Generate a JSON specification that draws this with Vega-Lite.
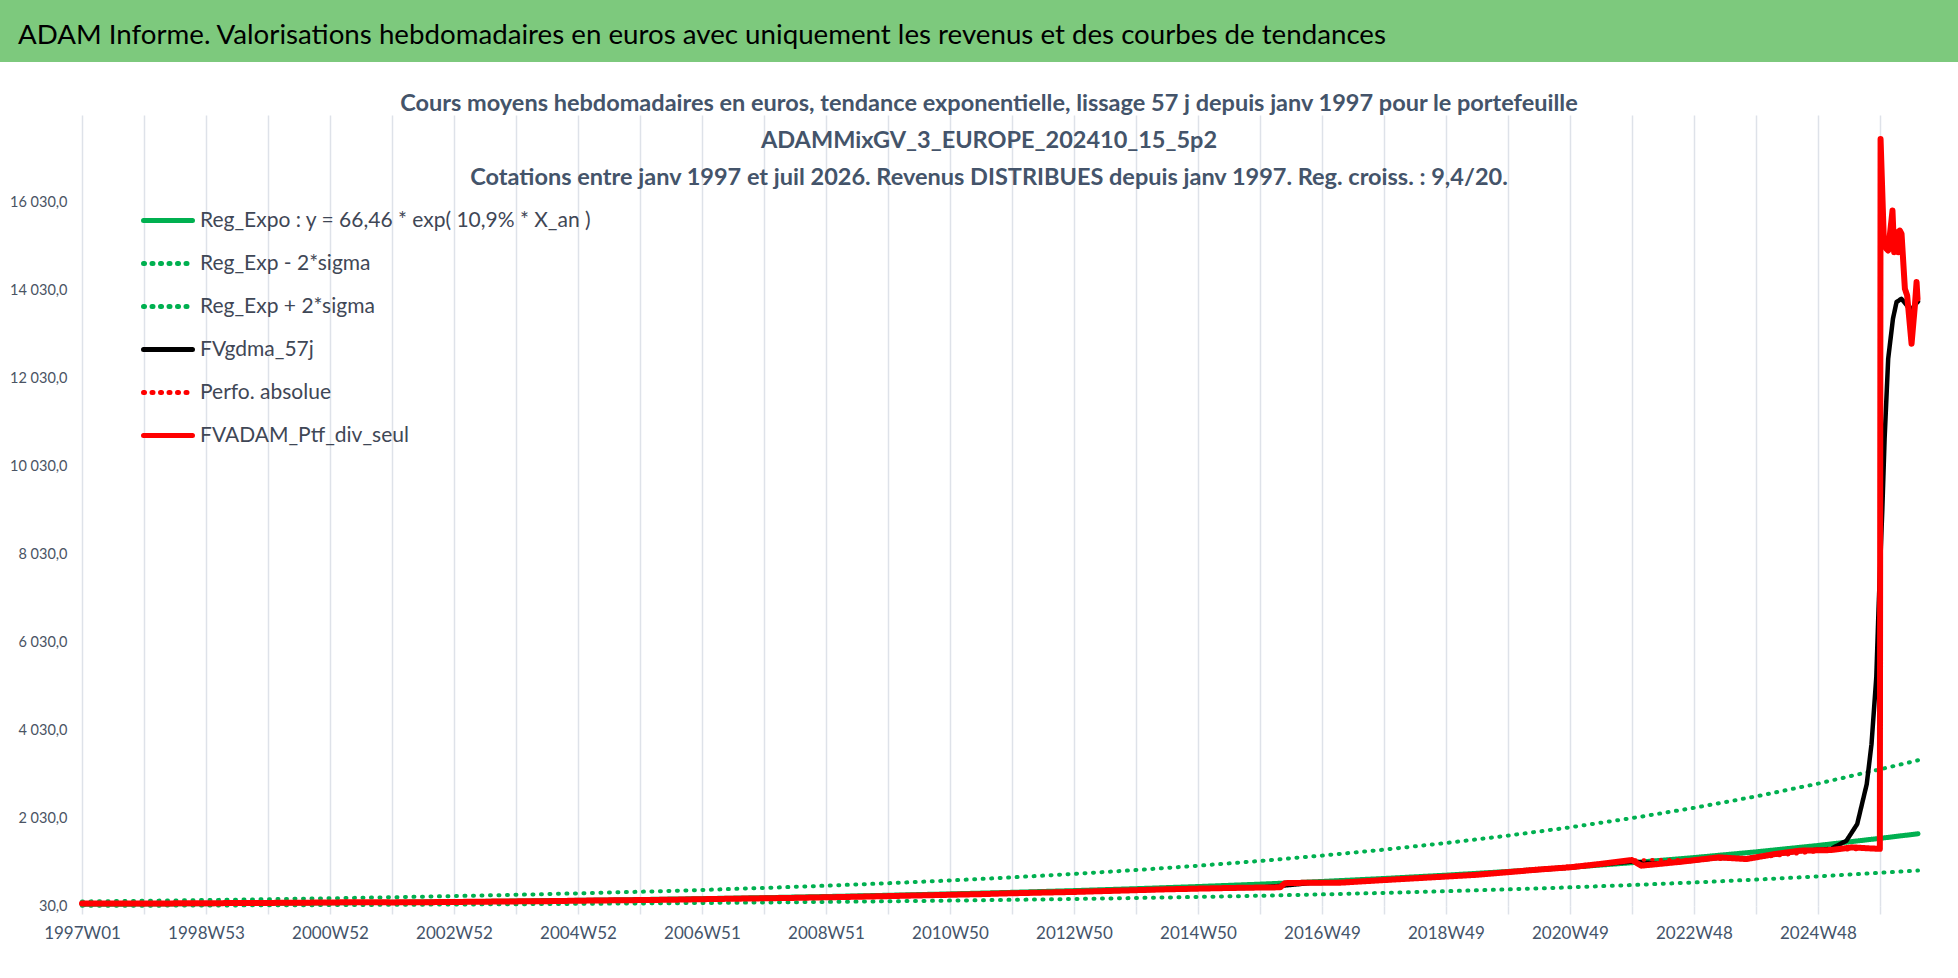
{
  "$schema": "https://vega.github.io/schema/vega-lite/v6.json",
  "background": "white",
  "padding": 0,
  "config": {
    "view": {"stroke": null},
    "font": "Lato"
  },
  "datasets": {
    "grid": [
      {"g": 30}, {"g": 2030}, {"g": 4030}, {"g": 6030}, {"g": 8030}, {"g": 10030}, {"g": 12030}, {"g": 14030}, {"g": 16030}
    ],
    "series": [
      {"s": "reg", "w": 0, "v": 66.5}, {"s": "reg", "w": 52, "v": 74.1}, {"s": "reg", "w": 104, "v": 82.7}, {"s": "reg", "w": 156, "v": 92.2},
      {"s": "reg", "w": 208, "v": 102.8}, {"s": "reg", "w": 260, "v": 114.6}, {"s": "reg", "w": 312, "v": 127.8}, {"s": "reg", "w": 364, "v": 142.6},
      {"s": "reg", "w": 416, "v": 159.0}, {"s": "reg", "w": 468, "v": 177.3}, {"s": "reg", "w": 520, "v": 197.7}, {"s": "reg", "w": 572, "v": 220.5},
      {"s": "reg", "w": 624, "v": 245.9}, {"s": "reg", "w": 676, "v": 274.2}, {"s": "reg", "w": 728, "v": 305.8}, {"s": "reg", "w": 780, "v": 341.0},
      {"s": "reg", "w": 832, "v": 380.3}, {"s": "reg", "w": 884, "v": 424.1}, {"s": "reg", "w": 936, "v": 473.0}, {"s": "reg", "w": 988, "v": 527.4},
      {"s": "reg", "w": 1040, "v": 588.2}, {"s": "reg", "w": 1092, "v": 656.0}, {"s": "reg", "w": 1144, "v": 731.5}, {"s": "reg", "w": 1196, "v": 815.8},
      {"s": "reg", "w": 1248, "v": 909.8}, {"s": "reg", "w": 1300, "v": 1014.6}, {"s": "reg", "w": 1352, "v": 1131.5}, {"s": "reg", "w": 1404, "v": 1261.8},
      {"s": "reg", "w": 1456, "v": 1407.2}, {"s": "reg", "w": 1508, "v": 1569.3}, {"s": "reg", "w": 1540, "v": 1673.0},

      {"s": "lo", "w": 0, "v": 33.3}, {"s": "lo", "w": 52, "v": 37.1}, {"s": "lo", "w": 104, "v": 41.4}, {"s": "lo", "w": 156, "v": 46.1},
      {"s": "lo", "w": 208, "v": 51.4}, {"s": "lo", "w": 260, "v": 57.3}, {"s": "lo", "w": 312, "v": 63.9}, {"s": "lo", "w": 364, "v": 71.3},
      {"s": "lo", "w": 416, "v": 79.5}, {"s": "lo", "w": 468, "v": 88.7}, {"s": "lo", "w": 520, "v": 98.9}, {"s": "lo", "w": 572, "v": 110.3},
      {"s": "lo", "w": 624, "v": 123.0}, {"s": "lo", "w": 676, "v": 137.1}, {"s": "lo", "w": 728, "v": 152.9}, {"s": "lo", "w": 780, "v": 170.5},
      {"s": "lo", "w": 832, "v": 190.2}, {"s": "lo", "w": 884, "v": 212.1}, {"s": "lo", "w": 936, "v": 236.5}, {"s": "lo", "w": 988, "v": 263.7},
      {"s": "lo", "w": 1040, "v": 294.1}, {"s": "lo", "w": 1092, "v": 328.0}, {"s": "lo", "w": 1144, "v": 365.8}, {"s": "lo", "w": 1196, "v": 407.9},
      {"s": "lo", "w": 1248, "v": 454.9}, {"s": "lo", "w": 1300, "v": 507.3}, {"s": "lo", "w": 1352, "v": 565.8}, {"s": "lo", "w": 1404, "v": 630.9},
      {"s": "lo", "w": 1456, "v": 703.6}, {"s": "lo", "w": 1508, "v": 784.7}, {"s": "lo", "w": 1540, "v": 836.5},

      {"s": "hi", "w": 0, "v": 133.0}, {"s": "hi", "w": 52, "v": 148.2}, {"s": "hi", "w": 104, "v": 165.4}, {"s": "hi", "w": 156, "v": 184.4},
      {"s": "hi", "w": 208, "v": 205.6}, {"s": "hi", "w": 260, "v": 229.2}, {"s": "hi", "w": 312, "v": 255.6}, {"s": "hi", "w": 364, "v": 285.2},
      {"s": "hi", "w": 416, "v": 318.0}, {"s": "hi", "w": 468, "v": 354.6}, {"s": "hi", "w": 520, "v": 395.4}, {"s": "hi", "w": 572, "v": 441.0},
      {"s": "hi", "w": 624, "v": 491.8}, {"s": "hi", "w": 676, "v": 548.4}, {"s": "hi", "w": 728, "v": 611.6}, {"s": "hi", "w": 780, "v": 682.0},
      {"s": "hi", "w": 832, "v": 760.6}, {"s": "hi", "w": 884, "v": 848.2}, {"s": "hi", "w": 936, "v": 946.0}, {"s": "hi", "w": 988, "v": 1054.8},
      {"s": "hi", "w": 1040, "v": 1176.4}, {"s": "hi", "w": 1092, "v": 1312.0}, {"s": "hi", "w": 1144, "v": 1463.0}, {"s": "hi", "w": 1196, "v": 1631.6},
      {"s": "hi", "w": 1248, "v": 1819.6}, {"s": "hi", "w": 1300, "v": 2029.2}, {"s": "hi", "w": 1352, "v": 2263.0}, {"s": "hi", "w": 1404, "v": 2523.6},
      {"s": "hi", "w": 1456, "v": 2814.4}, {"s": "hi", "w": 1508, "v": 3138.6}, {"s": "hi", "w": 1540, "v": 3346.0},

      {"s": "gdma", "w": 0, "v": 85}, {"s": "gdma", "w": 52, "v": 86}, {"s": "gdma", "w": 104, "v": 92}, {"s": "gdma", "w": 156, "v": 100},
      {"s": "gdma", "w": 208, "v": 110}, {"s": "gdma", "w": 260, "v": 114}, {"s": "gdma", "w": 312, "v": 122}, {"s": "gdma", "w": 364, "v": 135},
      {"s": "gdma", "w": 416, "v": 150}, {"s": "gdma", "w": 468, "v": 165}, {"s": "gdma", "w": 520, "v": 185}, {"s": "gdma", "w": 572, "v": 205},
      {"s": "gdma", "w": 624, "v": 228}, {"s": "gdma", "w": 676, "v": 255}, {"s": "gdma", "w": 728, "v": 285}, {"s": "gdma", "w": 780, "v": 318},
      {"s": "gdma", "w": 832, "v": 350}, {"s": "gdma", "w": 884, "v": 388}, {"s": "gdma", "w": 936, "v": 424}, {"s": "gdma", "w": 988, "v": 448},
      {"s": "gdma", "w": 1010, "v": 500}, {"s": "gdma", "w": 1030, "v": 552}, {"s": "gdma", "w": 1055, "v": 562}, {"s": "gdma", "w": 1092, "v": 618},
      {"s": "gdma", "w": 1144, "v": 698}, {"s": "gdma", "w": 1196, "v": 798}, {"s": "gdma", "w": 1248, "v": 905}, {"s": "gdma", "w": 1273, "v": 975},
      {"s": "gdma", "w": 1300, "v": 1040}, {"s": "gdma", "w": 1320, "v": 1000}, {"s": "gdma", "w": 1342, "v": 1035}, {"s": "gdma", "w": 1373, "v": 1125},
      {"s": "gdma", "w": 1396, "v": 1110}, {"s": "gdma", "w": 1420, "v": 1200}, {"s": "gdma", "w": 1441, "v": 1280}, {"s": "gdma", "w": 1467, "v": 1330},
      {"s": "gdma", "w": 1480, "v": 1516}, {"s": "gdma", "w": 1489, "v": 1894}, {"s": "gdma", "w": 1497, "v": 2803}, {"s": "gdma", "w": 1501, "v": 3712},
      {"s": "gdma", "w": 1505, "v": 5228}, {"s": "gdma", "w": 1507, "v": 6872}, {"s": "gdma", "w": 1510, "v": 9000}, {"s": "gdma", "w": 1512, "v": 10668},
      {"s": "gdma", "w": 1515, "v": 12485}, {"s": "gdma", "w": 1519, "v": 13394}, {"s": "gdma", "w": 1522, "v": 13773}, {"s": "gdma", "w": 1526, "v": 13848},
      {"s": "gdma", "w": 1528, "v": 13787}, {"s": "gdma", "w": 1534, "v": 13582}, {"s": "gdma", "w": 1537, "v": 13697}, {"s": "gdma", "w": 1540, "v": 13787},

      {"s": "perf", "w": 0, "v": 85}, {"s": "perf", "w": 104, "v": 92}, {"s": "perf", "w": 208, "v": 110}, {"s": "perf", "w": 312, "v": 122},
      {"s": "perf", "w": 416, "v": 150}, {"s": "perf", "w": 520, "v": 185}, {"s": "perf", "w": 624, "v": 228}, {"s": "perf", "w": 728, "v": 285},
      {"s": "perf", "w": 832, "v": 350}, {"s": "perf", "w": 936, "v": 425}, {"s": "perf", "w": 1005, "v": 455}, {"s": "perf", "w": 1009, "v": 550},
      {"s": "perf", "w": 1092, "v": 620}, {"s": "perf", "w": 1196, "v": 800}, {"s": "perf", "w": 1300, "v": 1076}, {"s": "perf", "w": 1396, "v": 1098},
      {"s": "perf", "w": 1467, "v": 1303}, {"s": "perf", "w": 1507, "v": 1326},

      {"s": "ptf", "w": 0, "v": 85}, {"s": "ptf", "w": 26, "v": 88}, {"s": "ptf", "w": 52, "v": 84}, {"s": "ptf", "w": 78, "v": 90},
      {"s": "ptf", "w": 104, "v": 92}, {"s": "ptf", "w": 130, "v": 98}, {"s": "ptf", "w": 156, "v": 100}, {"s": "ptf", "w": 182, "v": 105},
      {"s": "ptf", "w": 208, "v": 110}, {"s": "ptf", "w": 234, "v": 118}, {"s": "ptf", "w": 260, "v": 112}, {"s": "ptf", "w": 286, "v": 116},
      {"s": "ptf", "w": 312, "v": 122}, {"s": "ptf", "w": 338, "v": 128}, {"s": "ptf", "w": 364, "v": 135}, {"s": "ptf", "w": 390, "v": 140},
      {"s": "ptf", "w": 416, "v": 150}, {"s": "ptf", "w": 442, "v": 158}, {"s": "ptf", "w": 468, "v": 165}, {"s": "ptf", "w": 494, "v": 172},
      {"s": "ptf", "w": 520, "v": 185}, {"s": "ptf", "w": 546, "v": 195}, {"s": "ptf", "w": 572, "v": 205}, {"s": "ptf", "w": 598, "v": 215},
      {"s": "ptf", "w": 624, "v": 228}, {"s": "ptf", "w": 650, "v": 240}, {"s": "ptf", "w": 676, "v": 255}, {"s": "ptf", "w": 702, "v": 270},
      {"s": "ptf", "w": 728, "v": 285}, {"s": "ptf", "w": 754, "v": 300}, {"s": "ptf", "w": 780, "v": 320}, {"s": "ptf", "w": 806, "v": 335},
      {"s": "ptf", "w": 832, "v": 350}, {"s": "ptf", "w": 858, "v": 370}, {"s": "ptf", "w": 884, "v": 390}, {"s": "ptf", "w": 910, "v": 410},
      {"s": "ptf", "w": 936, "v": 425}, {"s": "ptf", "w": 962, "v": 440}, {"s": "ptf", "w": 988, "v": 450}, {"s": "ptf", "w": 1005, "v": 455},
      {"s": "ptf", "w": 1009, "v": 550}, {"s": "ptf", "w": 1030, "v": 560}, {"s": "ptf", "w": 1055, "v": 560}, {"s": "ptf", "w": 1092, "v": 620},
      {"s": "ptf", "w": 1118, "v": 660}, {"s": "ptf", "w": 1144, "v": 700}, {"s": "ptf", "w": 1170, "v": 740}, {"s": "ptf", "w": 1196, "v": 800},
      {"s": "ptf", "w": 1222, "v": 860}, {"s": "ptf", "w": 1248, "v": 910}, {"s": "ptf", "w": 1273, "v": 985}, {"s": "ptf", "w": 1300, "v": 1076},
      {"s": "ptf", "w": 1308, "v": 948}, {"s": "ptf", "w": 1342, "v": 1039}, {"s": "ptf", "w": 1373, "v": 1137}, {"s": "ptf", "w": 1396, "v": 1098},
      {"s": "ptf", "w": 1420, "v": 1212}, {"s": "ptf", "w": 1441, "v": 1289}, {"s": "ptf", "w": 1467, "v": 1303}, {"s": "ptf", "w": 1485, "v": 1364},
      {"s": "ptf", "w": 1500, "v": 1340}, {"s": "ptf", "w": 1508, "v": 1330}, {"s": "ptf", "w": 1508.6, "v": 17484}, {"s": "ptf", "w": 1511.3, "v": 15212},
      {"s": "ptf", "w": 1513.5, "v": 14985}, {"s": "ptf", "w": 1515, "v": 14946}, {"s": "ptf", "w": 1518.6, "v": 15855}, {"s": "ptf", "w": 1520, "v": 14909},
      {"s": "ptf", "w": 1522, "v": 15364}, {"s": "ptf", "w": 1523.4, "v": 14909}, {"s": "ptf", "w": 1524.8, "v": 15400}, {"s": "ptf", "w": 1526.2, "v": 15325},
      {"s": "ptf", "w": 1529, "v": 14076}, {"s": "ptf", "w": 1530.9, "v": 13924}, {"s": "ptf", "w": 1534.6, "v": 12826}, {"s": "ptf", "w": 1537.4, "v": 13697},
      {"s": "ptf", "w": 1538.8, "v": 14228}, {"s": "ptf", "w": 1539.6, "v": 13848}
    ]
  },
  "vconcat": [
    {
      "width": 1958,
      "height": 62,
      "view": {"fill": "#7DC97D", "stroke": null},
      "title": {
        "text": "ADAM Informe. Valorisations hebdomadaires en euros avec uniquement les revenus et des courbes de tendances",
        "anchor": "start",
        "frame": "group",
        "orient": "top",
        "offset": -50,
        "dx": 18,
        "fontSize": 27.7,
        "fontWeight": "normal",
        "color": "#000000"
      },
      "data": {"values": [{}]},
      "mark": {"type": "text", "text": ""},
      "encoding": {}
    },
    {
      "width": 1918,
      "height": 791,
      "title": {
        "text": [
          "Cours moyens hebdomadaires  en euros, tendance exponentielle, lissage 57 j depuis janv 1997 pour le portefeuille",
          "ADAMMixGV_3_EUROPE_202410_15_5p2",
          "Cotations entre janv 1997 et juil 2026. Revenus DISTRIBUES depuis janv 1997. Reg. croiss. : 9,4/20."
        ],
        "anchor": "middle",
        "frame": "group",
        "offset": -74,
        "dx": 30,
        "fontSize": 23.5,
        "fontWeight": "bold",
        "lineHeight": 37,
        "color": "#44546A"
      },
      "encoding": {
        "x": {
          "field": "w",
          "type": "quantitative",
          "scale": {"domain": [-68.78, 1540], "nice": false, "zero": false},
          "axis": {
            "title": null,
            "values": [0, 52, 104, 156, 208, 260, 312, 364, 416, 468, 520, 572, 624, 676, 728, 780, 832, 884, 936, 988, 1040, 1092, 1144, 1196, 1248, 1300, 1352, 1404, 1456, 1508],
            "labelExpr": "datum.value % 104 === 0 ? ['1997W01','1998W53','2000W52','2002W52','2004W52','2006W51','2008W51','2010W50','2012W50','2014W50','2016W49','2018W49','2020W49','2022W48','2024W48'][datum.value / 104] : ''",
            "labelFontSize": 17,
            "labelColor": "#44546A",
            "labelPadding": 11,
            "labelFlush": false,
            "labelOverlap": false,
            "labelBound": false,
            "tickSize": 8,
            "tickColor": "#DEE2E9",
            "tickWidth": 1.5,
            "domain": false,
            "grid": true,
            "gridColor": "#DEE2E9",
            "gridWidth": 1.5
          }
        },
        "y": {
          "field": "v",
          "type": "quantitative",
          "scale": {"domain": [30, 18030], "nice": false, "zero": false},
          "axis": {
            "title": null,
            "values": [30, 2030, 4030, 6030, 8030, 10030, 12030, 14030, 16030],
            "labelExpr": "replace(replace(format(datum.value, ',.1f'), ',', ' '), '.', ',')",
            "labelFontSize": 14.5,
            "labelColor": "#4A5464",
            "labelAlign": "right",
            "labelPadding": -67,
            "tickSize": 0,
            "labelFlush": false,
            "labelOverlap": false,
            "labelBound": false,
            "domain": false,
            "ticks": false,
            "grid": false
          }
        },
        "color": {
          "field": "s",
          "type": "nominal",
          "scale": {
            "domain": ["reg", "lo", "hi", "gdma", "perf", "ptf"],
            "range": ["#00B050", "#00B050", "#00B050", "#000000", "#FF0000", "#FF0000"]
          },
          "legend": {
            "title": null,
            "orient": "none",
            "legendX": 141,
            "legendY": 199,
            "padding": 0,
            "rowPadding": 0,
            "clipHeight": 43,
            "symbolType": "stroke",
            "symbolSize": 2400,
            "symbolStrokeWidth": 5,
            "labelOffset": 5,
            "labelFontSize": 21,
            "labelColor": "#3F4756",
            "labelLimit": 0,
            "labelExpr": "{'reg': 'Reg_Expo : y = 66,46 * exp( 10,9% *  X_an )', 'lo': 'Reg_Exp - 2*sigma', 'hi': 'Reg_Exp + 2*sigma', 'gdma': 'FVgdma_57j', 'perf': 'Perfo. absolue', 'ptf': 'FVADAM_Ptf_div_seul'}[datum.label]",
            "encode": {"symbols": {"update": {"strokeCap": {"value": "round"}}}}
          }
        },
        "strokeDash": {
          "field": "s",
          "type": "nominal",
          "scale": {
            "domain": ["reg", "lo", "hi", "gdma", "perf", "ptf"],
            "range": [[1, 0], [1, 7.5], [1, 7.5], [1, 0], [1, 7.5], [1, 0]]
          },
          "legend": {
            "title": null,
            "orient": "none",
            "legendX": 141,
            "legendY": 199,
            "padding": 0,
            "rowPadding": 0,
            "clipHeight": 43,
            "symbolType": "stroke",
            "symbolSize": 2400,
            "symbolStrokeWidth": 5,
            "labelOffset": 5,
            "labelFontSize": 21,
            "labelColor": "#3F4756",
            "labelLimit": 0,
            "labelExpr": "{'reg': 'Reg_Expo : y = 66,46 * exp( 10,9% *  X_an )', 'lo': 'Reg_Exp - 2*sigma', 'hi': 'Reg_Exp + 2*sigma', 'gdma': 'FVgdma_57j', 'perf': 'Perfo. absolue', 'ptf': 'FVADAM_Ptf_div_seul'}[datum.label]",
            "encode": {"symbols": {"update": {"strokeCap": {"value": "round"}}}}
          }
        }
      },
      "layer": [
        {
          "data": {"name": "grid"},
          "mark": {"type": "rule", "color": "#DEE2E9", "strokeWidth": 1.5},
          "encoding": {
            "y": {"field": "g", "type": "quantitative"},
            "x": {"datum": 0},
            "x2": {"datum": 1540},
            "color": {"value": "#DEE2E9"},
            "strokeDash": {"value": [1, 0]}
          }
        },
        {"data": {"name": "series"}, "transform": [{"filter": "datum.s === 'reg'"}], "mark": {"type": "line", "strokeWidth": 5, "strokeCap": "round", "strokeJoin": "round"}},
        {"data": {"name": "series"}, "transform": [{"filter": "datum.s === 'lo'"}], "mark": {"type": "line", "strokeWidth": 4, "strokeCap": "round"}},
        {"data": {"name": "series"}, "transform": [{"filter": "datum.s === 'hi'"}], "mark": {"type": "line", "strokeWidth": 4, "strokeCap": "round"}},
        {"data": {"name": "series"}, "transform": [{"filter": "datum.s === 'gdma'"}], "mark": {"type": "line", "strokeWidth": 4.5, "strokeCap": "round", "strokeJoin": "round"}},
        {"data": {"name": "series"}, "transform": [{"filter": "datum.s === 'perf'"}], "mark": {"type": "line", "strokeWidth": 3.5, "strokeCap": "round"}},
        {"data": {"name": "series"}, "transform": [{"filter": "datum.s === 'ptf'"}], "mark": {"type": "line", "strokeWidth": 6, "strokeCap": "round", "strokeJoin": "round"}}
      ]
    }
  ],
  "spacing": 29
}
